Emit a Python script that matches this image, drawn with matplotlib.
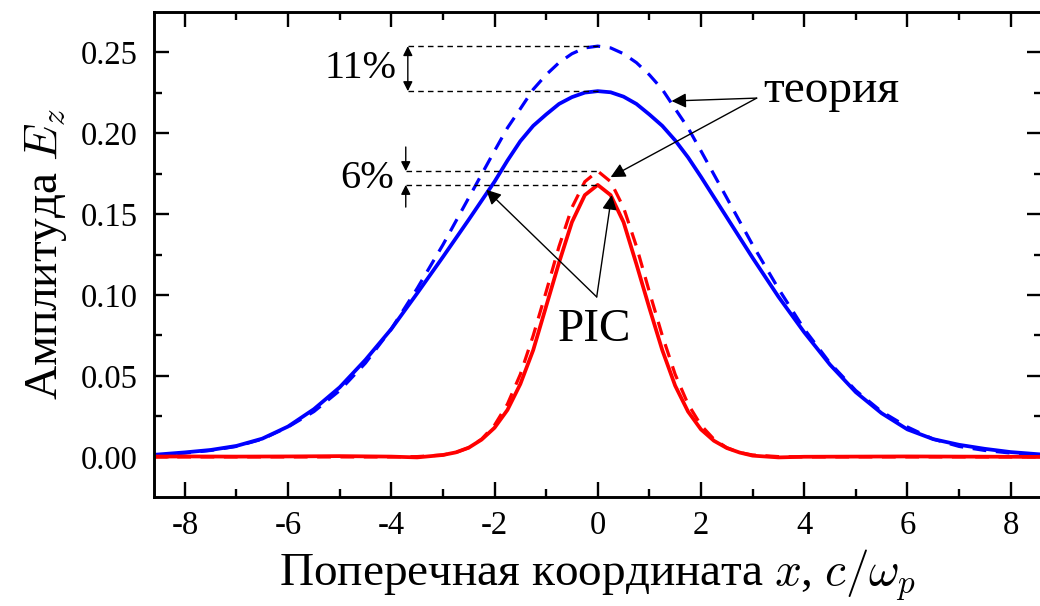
import matplotlib
matplotlib.use('Agg')
import matplotlib.pyplot as plt
from matplotlib.ticker import MultipleLocator, FormatStrFormatter

plt.rcParams['font.family'] = ['Liberation Serif', 'DejaVu Serif']
plt.rcParams['mathtext.fontset'] = 'cm'
plt.rcParams['axes.unicode_minus'] = False

# wide (blue) beam, finer step around the peak
x_wide = [-8.6, -8.0, -7.5, -7.0, -6.5, -6.0, -5.5, -5.0, -4.5, -4.0, -3.5, -3.0, -2.5,
          -2.0, -1.75, -1.5, -1.25, -1.0, -0.75, -0.5, -0.25, 0.0,
          0.25, 0.5, 0.75, 1.0, 1.25, 1.5, 1.75, 2.0,
          2.5, 3.0, 3.5, 4.0, 4.5, 5.0, 5.5, 6.0, 6.5, 7.0, 7.5, 8.0, 8.6]
blue_pic = [0.0013, 0.0028, 0.0043, 0.0068, 0.0113, 0.0188, 0.0295, 0.0430, 0.0600,
            0.0790, 0.1010, 0.1235, 0.1465,
            0.1700, 0.1830, 0.1950, 0.2045, 0.2115, 0.2180, 0.2222, 0.2250, 0.2259,
            0.2252, 0.2225, 0.2180, 0.2115, 0.2045, 0.1955, 0.1850, 0.1730,
            0.1480, 0.1230, 0.0990, 0.0770, 0.0570, 0.0400, 0.0270, 0.0170, 0.0110,
            0.0075, 0.0050, 0.0030, 0.0015]
blue_theory = [0.0010, 0.0024, 0.0040, 0.0065, 0.0110, 0.0185, 0.0280, 0.0410, 0.0580,
               0.0790, 0.1040, 0.1310, 0.1600,
               0.1890, 0.2032, 0.2150, 0.2270, 0.2360, 0.2435, 0.2490, 0.2526, 0.2537,
               0.2526, 0.2490, 0.2435, 0.2360, 0.2270, 0.2150, 0.2032, 0.1890,
               0.1600, 0.1310, 0.1040, 0.0790, 0.0580, 0.0410, 0.0280, 0.0185, 0.0110,
               0.0065, 0.0040, 0.0024, 0.0010]

# narrow (red) beam, finer step near the axis
x_narrow = [-8.6, -8.0, -7.0, -6.0, -5.0, -4.0, -3.5, -3.0,
            -2.75, -2.5, -2.25, -2.0, -1.75, -1.5, -1.25, -1.0, -0.75, -0.5, -0.25,
            0.0, 0.25, 0.5, 0.75, 1.0, 1.25, 1.5, 1.75, 2.0, 2.25, 2.5, 2.75,
            3.0, 3.5, 4.0, 5.0, 6.0, 7.0, 8.0, 8.6]
red_pic = [0.0002, 0.0003, 0.0002, 0.0003, 0.0005, 0.0002, -0.0003, 0.0012,
           0.0028, 0.0057, 0.0107, 0.0180, 0.0290, 0.0450, 0.0660, 0.0930, 0.1200,
           0.1450, 0.1617, 0.1680, 0.1617, 0.1450, 0.1190, 0.0920, 0.0660, 0.0440,
           0.0280, 0.0170, 0.0100, 0.0055, 0.0027,
           0.0008, -0.0003, 0.0001, 0.0002, 0.0003, 0.0002, 0.0001, 0.0000]
red_theory = [0.0, 0.0, 0.0, 0.0, 0.0, 0.0, 0.0002, 0.0012,
              0.0027, 0.0057, 0.0110, 0.0196, 0.0326, 0.0510, 0.0750, 0.1020, 0.1300,
              0.1540, 0.1700, 0.1765, 0.1700, 0.1540, 0.1300, 0.1020, 0.0750, 0.0510,
              0.0326, 0.0196, 0.0110, 0.0057, 0.0027,
              0.0012, 0.0002, 0.0, 0.0, 0.0, 0.0, 0.0, 0.0]

fig = plt.figure(figsize=(10.4, 6.06), dpi=100)
ax = fig.add_axes([0.148, 0.180, 0.8535, 0.800])

dash = (0, (4.3, 3.0))
ax.plot(x_wide, blue_theory, color='#0000ff', lw=2.3, linestyle=dash)
ax.plot(x_narrow, red_theory, color='#ff0000', lw=2.3, linestyle=dash)
ax.plot(x_wide, blue_pic, color='#0000ff', lw=2.7)
ax.plot(x_narrow, red_pic, color='#ff0000', lw=2.7)

ax.set_xlim(-8.6, 8.6)
ax.set_ylim(-0.0247, 0.2747)
ax.xaxis.set_major_locator(MultipleLocator(2))
ax.xaxis.set_minor_locator(MultipleLocator(1))
ax.yaxis.set_major_locator(MultipleLocator(0.05))
ax.yaxis.set_minor_locator(MultipleLocator(0.025))
ax.yaxis.set_major_formatter(FormatStrFormatter('%.2f'))
ax.tick_params(which='both', direction='in', top=True, right=True, width=1.7)
ax.tick_params(which='major', length=11, labelsize=23.5)
ax.tick_params(which='minor', length=5.5)
ax.tick_params(axis='y', pad=12)
ax.tick_params(axis='x', pad=10)
for s in ax.spines.values():
    s.set_linewidth(2.1)

ax.set_xlabel(r'Поперечная координата $x$, $c/\omega_p$', fontsize=34, labelpad=4)
ax.set_ylabel(r'Амплитуда $E_z$', fontsize=34, labelpad=8)

# peak guides with percentage marks
bt, bp = max(blue_theory), max(blue_pic)
rt, rp = max(red_theory), max(red_pic)
guide = dict(color='k', lw=1.0, linestyle=(0, (4, 3)))
ax.plot([-3.68, 0], [bt, bt], **guide)
ax.plot([-3.68, 0], [bp, bp], **guide)
ax.plot([-3.72, 0], [rt, rt], **guide)
ax.plot([-3.72, 0], [rp, rp], **guide)

head = dict(color='k', lw=1.0, shrinkA=0, shrinkB=0, mutation_scale=14)
ax.annotate('', xy=(-3.68, bt), xytext=(-3.68, bp), arrowprops=dict(arrowstyle='<|-|>', **head))
ax.annotate('', xy=(-3.72, rt), xytext=(-3.72, 0.1914), arrowprops=dict(arrowstyle='-|>', **head))
ax.annotate('', xy=(-3.72, rp), xytext=(-3.72, 0.1543), arrowprops=dict(arrowstyle='-|>', **head))
ax.text(-3.9, (bt + bp) / 2, '11%', fontsize=29, ha='right', va='center')
ax.text(-3.95, (rt + rp) / 2, '6%', fontsize=29, ha='right', va='center')

# pointers to theory and PIC curves
ptr = dict(arrowstyle='-|>', color='k', lw=1.0, shrinkA=0, shrinkB=0, mutation_scale=22)
ax.annotate('', xy=(1.43, 0.2198), xytext=(3.08, 0.2216), arrowprops=ptr)
ax.annotate('', xy=(0.25, 0.1728), xytext=(3.08, 0.2216), arrowprops=ptr)
ax.text(3.2, 0.219, 'теория', fontsize=34, ha='left', va='baseline')

ax.annotate('', xy=(-2.16, 0.165), xytext=(-0.02, 0.0988), arrowprops=ptr)
ax.annotate('', xy=(0.27, 0.1617), xytext=(-0.02, 0.0988), arrowprops=ptr)
ax.text(-0.06, 0.0784, 'PIC', fontsize=34, ha='center', va='center')

fig.savefig('out.png', dpi=100)
